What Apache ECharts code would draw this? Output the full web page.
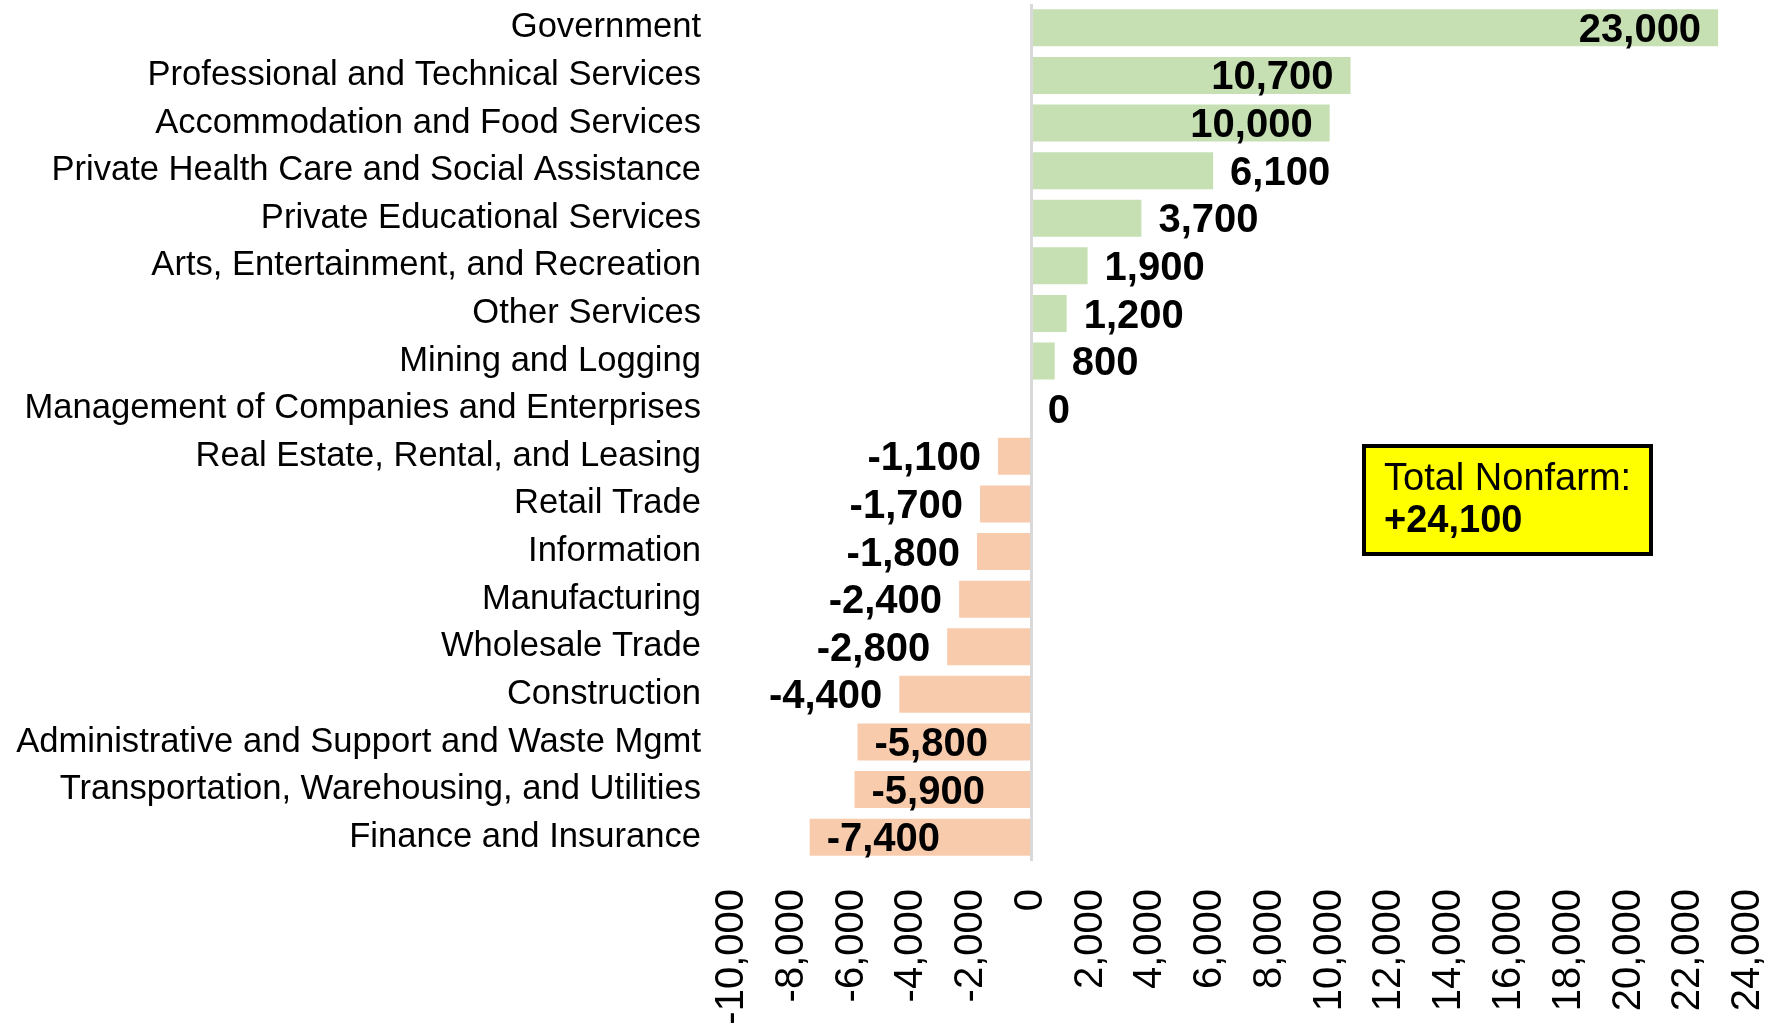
<!DOCTYPE html>
<html>
<head>
<meta charset="utf-8">
<script src="https://cdn.jsdelivr.net/npm/echarts@6/dist/echarts.min.js"></script>
<style>
  html, body { margin: 0; padding: 0; background: #fff; }
  #root { width: 1781px; height: 1028px; }
</style>
</head>
<body>
<div id="root"></div>
<script>
// industries, top to bottom
const categories = [
    'Government',
    'Professional and Technical Services',
    'Accommodation and Food Services',
    'Private Health Care and Social Assistance',
    'Private Educational Services',
    'Arts, Entertainment, and Recreation',
    'Other Services',
    'Mining and Logging',
    'Management of Companies and Enterprises',
    'Real Estate, Rental, and Leasing',
    'Retail Trade',
    'Information',
    'Manufacturing',
    'Wholesale Trade',
    'Construction',
    'Administrative and Support and Waste Mgmt',
    'Transportation, Warehousing, and Utilities',
    'Finance and Insurance'
]
const changes = [23000, 10700, 10000, 6100, 3700, 1900, 1200, 800, 0,
    -1100, -1700, -1800, -2400, -2800, -4400, -5800, -5900, -7400]
const tickValues = [-10000, -8000, -6000, -4000, -2000, 0, 2000, 4000, 6000,
    8000, 10000, 12000, 14000, 16000, 18000, 20000, 22000, 24000]
const totalNonfarm = 24100

const fmt = v => v.toLocaleString('en-US')

const chart = echarts.init(document.getElementById('root'))

const data = changes.map(v => {
    let pos
    if (v >= 10000) pos = 'insideRight'
    else if (v >= 0) pos = 'right'
    else if (v > -5000) pos = 'left'
    else pos = 'insideLeft'
    return {
        value: v,
        itemStyle: { color: v >= 0 ? '#c6e0b4' : '#f8cbad' },
        label: { position: pos }
    }
})

const option = {
    animation: false,
    grid: { left: 732, right: 33, top: 4, bottom: 167, containLabel: false },
    xAxis: {
        type: 'value',
        min: tickValues[0],
        max: tickValues[tickValues.length - 1],
        interval: 2000,
        axisLine: { show: false },
        axisTick: { show: false },
        splitLine: { show: false },
        axisLabel: {
            rotate: 90,
            margin: 28,
            fontSize: 40,
            fontFamily: 'Liberation Sans, Arial',
            color: '#000',
            formatter: v => fmt(v)
        }
    },
    yAxis: {
        type: 'category',
        data: categories,
        inverse: true,
        axisLine: { show: false },
        axisTick: { show: false },
        axisLabel: {
            margin: 31,
            fontSize: 34.6,
            fontFamily: 'Liberation Sans, Arial',
            color: '#000',
            padding: [9, 0, 0, 0]
        }
    },
    series: [{
        type: 'bar',
        data,
        barWidth: 37,
        label: {
            show: true,
            distance: 17,
            offset: [0, 3],
            fontSize: 40,
            fontWeight: 'bold',
            fontFamily: 'Liberation Sans, Arial',
            color: '#000',
            formatter: p => fmt(p.value)
        },
        markLine: {
            silent: true,
            symbol: 'none',
            label: { show: false },
            lineStyle: { color: '#d9d9d9', width: 3, type: 'solid' },
            data: [{ xAxis: 0 }]
        }
    }],
    graphic: [{
        type: 'group',
        left: 1362,
        top: 444,
        children: [{
            type: 'rect',
            shape: { x: 0, y: 0, width: 287, height: 108 },
            style: { fill: '#ffff00', stroke: '#000', lineWidth: 4 }
        }, {
            type: 'text',
            x: 20,
            y: 34,
            style: {
                text: 'Total Nonfarm:',
                font: '38px "Liberation Sans", Arial',
                fill: '#000',
                verticalAlign: 'middle'
            }
        }, {
            type: 'text',
            x: 20,
            y: 76,
            style: {
                text: '+' + fmt(totalNonfarm),
                font: 'bold 38px "Liberation Sans", Arial',
                fill: '#000',
                verticalAlign: 'middle'
            }
        }]
    }]
}
chart.setOption(option)
</script>
</body>
</html>
